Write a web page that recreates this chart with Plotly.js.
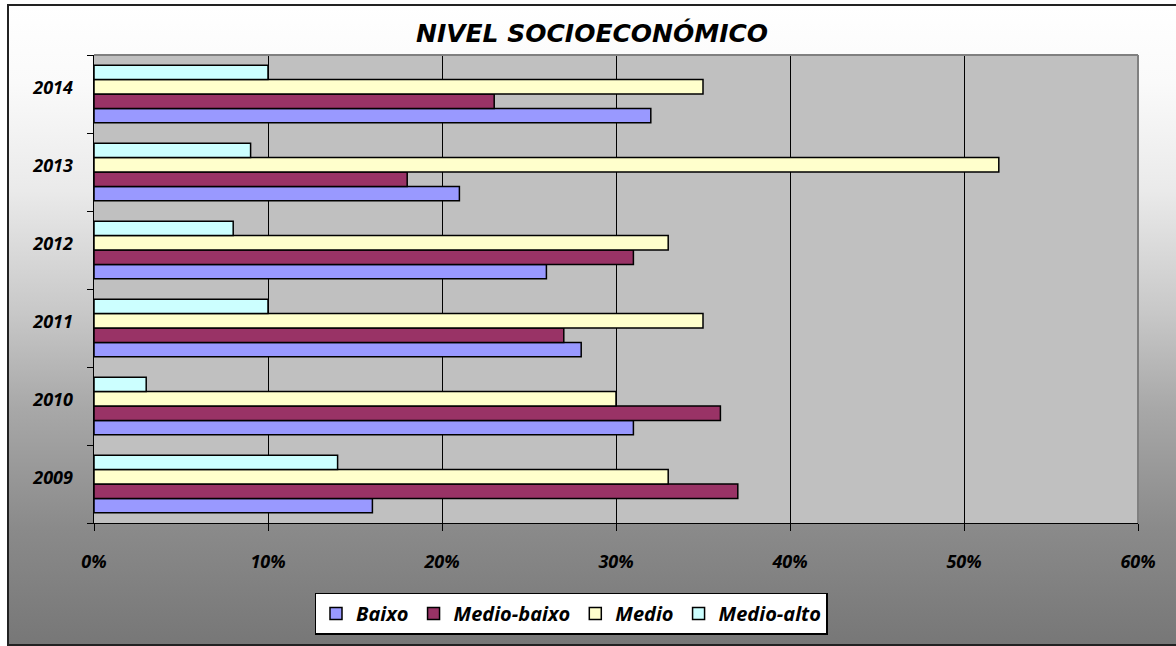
<!DOCTYPE html>
<html>
<head>
<meta charset="utf-8">
<script src="https://cdn.plot.ly/plotly-3.0.1.min.js"></script>
<style>
  html, body { margin: 0; padding: 0; background: #ffffff; }
  #wrap { position: relative; width: 1176px; height: 646px; overflow: hidden; }
  #frame {
    position: absolute; left: 7px; top: 4px; width: 1180px; height: 638px;
    border: 2px solid #222222;
    background: linear-gradient(to bottom, #ffffff 0%, #fafafa 12%, #eaeaea 29%, #c8c8c8 48%, #a8a8a8 63%, #8a8a8a 82%, #777777 100%);
  }
  #chart { position: absolute; left: 0; top: 0; width: 1176px; height: 646px; }
</style>
</head>
<body>
<div id="wrap">
  <div id="frame"></div>
  <div id="chart"></div>
</div>
<script>
const years = ['2009', '2010', '2011', '2012', '2013', '2014'];
const seriesNames = ['Baixo', 'Medio-baixo', 'Medio', 'Medio-alto'];
const baixo = [16, 31, 28, 26, 21, 32];
const medioBaixo = [37, 36, 27, 31, 18, 23];
const medio = [33, 30, 35, 33, 52, 35];
const medioAlto = [14, 3, 10, 8, 9, 10];
const xTickValues = [0, 10, 20, 30, 40, 50, 60];

const colors = ['#9999FF', '#993366', '#FFFFCC', '#CCFFFF'];
const values = [baixo, medioBaixo, medio, medioAlto];

const fontFam = '"Open Sans", "DejaVu Sans", sans-serif';
const titleFam = '"DejaVu Sans", "Open Sans", sans-serif';

const traces = seriesNames.map((name, i) => ({
  type: 'bar',
  orientation: 'h',
  name: name,
  y: years,
  x: values[i],
  marker: { color: colors[i], line: { color: '#000000', width: 1.5 } },
  hoverinfo: 'skip'
}));

const layout = {
  width: 1176,
  height: 646,
  margin: { l: 94, r: 38, t: 55, b: 120 },
  paper_bgcolor: 'rgba(0,0,0,0)',
  plot_bgcolor: '#C0C0C0',
  showlegend: true,
  barmode: 'group',
  bargap: 0.26,
  bargroupgap: 0,
  title: {
    text: 'NIVEL SOCIOECONÓMICO',
    x: (592 - 94) / 1044, xref: 'paper', xanchor: 'center',
    y: 1 - 33 / 646, yref: 'container', yanchor: 'middle',
    font: { family: titleFam, size: 25, weight: 'bold', style: 'italic', color: '#000000' }
  },
  xaxis: {
    range: [0, 60],
    tickvals: xTickValues,
    ticktext: xTickValues.map(v => v + '%'),
    showgrid: true, gridcolor: '#000000', gridwidth: 1,
    zeroline: false,
    showline: true, linecolor: '#000000', linewidth: 1,
    ticks: 'outside', ticklen: 7, tickcolor: '#000000', tickwidth: 1,
    ticklabelstandoff: 15,
    tickfont: { family: fontFam, size: 18, weight: 'bold', style: 'italic', color: '#000000' },
    fixedrange: true
  },
  yaxis: {
    type: 'category',
    categoryorder: 'array',
    categoryarray: years,
    showgrid: false,
    zeroline: false,
    showline: true, linecolor: '#000000', linewidth: 1.5,
    ticks: 'outside', tickson: 'boundaries', ticklen: 6, tickcolor: '#000000', tickwidth: 1,
    ticklabelstandoff: 16,
    ticklabelshift: -6,
    tickfont: { family: fontFam, size: 18, weight: 'bold', style: 'italic', color: '#000000' },
    fixedrange: true
  },
  legend: {
    orientation: 'h',
    traceorder: 'normal',
    x: (571 - 94) / 1044, xanchor: 'center',
    y: (526 - 596) / 471, yanchor: 'top',
    bgcolor: '#ffffff',
    bordercolor: '#000000', borderwidth: 1.5,
    font: { family: fontFam, size: 20, weight: 'bold', style: 'italic', color: '#000000' },
    itemwidth: 30
  },
  shapes: [
    { type: 'line', xref: 'paper', yref: 'paper', x0: 0, x1: 1, y0: 1, y1: 1, line: { color: '#808080', width: 2 } },
    { type: 'line', xref: 'paper', yref: 'paper', x0: 1, x1: 1, y0: 0, y1: 1, line: { color: '#808080', width: 2 } }
  ]
};

Plotly.newPlot('chart', traces, layout, { staticPlot: true, displayModeBar: false });
</script>
</body>
</html>
